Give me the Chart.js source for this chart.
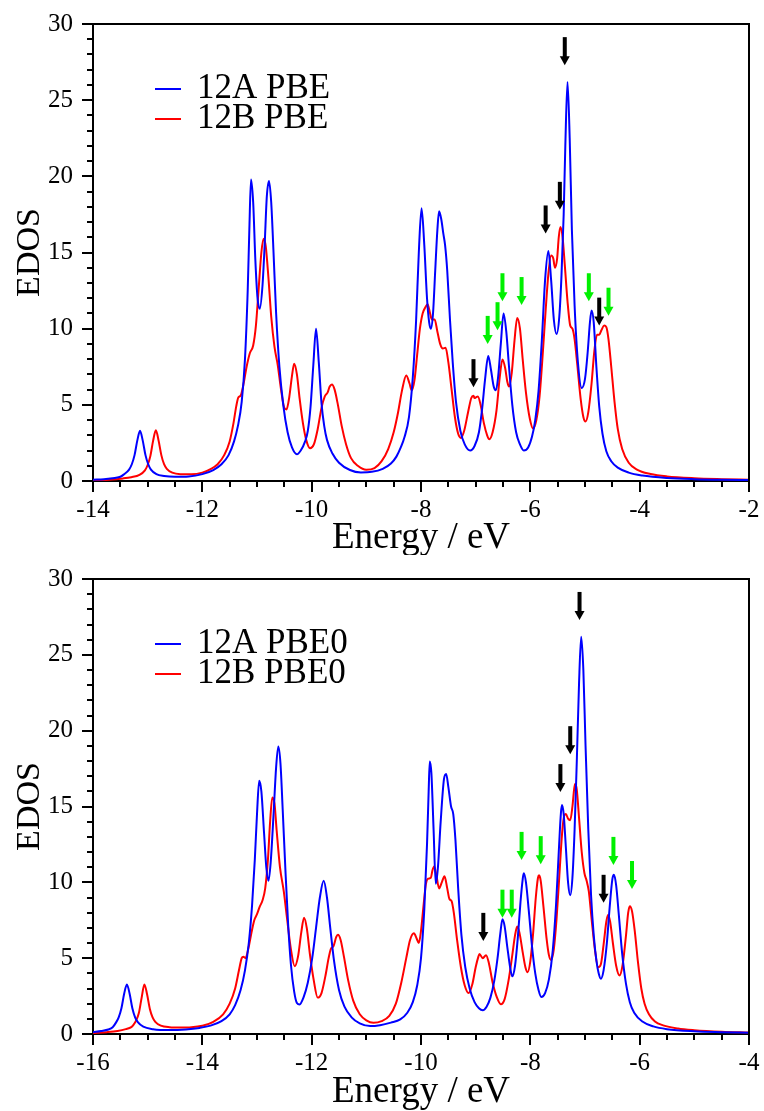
<!DOCTYPE html>
<html>
<head>
<meta charset="utf-8">
<script src="https://cdn.jsdelivr.net/npm/chart.js@4.4.1/dist/chart.umd.min.js"></script>
<style>
  body { margin: 0; background: #fff; }
  canvas { display: block; }
</style>
</head>
<body>
<canvas id="pbeChart" width="764" height="555"></canvas>
<canvas id="pbe0Chart" width="764" height="556"></canvas>
<script>
// EDOS curves: [energy (eV), EDOS]
const pbe12A = [
  [-14, 0.08], [-13.8, 0.12], [-13.6, 0.2], [-13.5, 0.28], [-13.44, 0.42], [-13.34, 0.75], [-13.29, 1.1],
  [-13.24, 1.7], [-13.19, 2.65], [-13.14, 3.3], [-13.09, 2.65], [-13.04, 1.7], [-12.99, 1.1], [-12.94, 0.75],
  [-12.84, 0.45], [-12.7, 0.33], [-12.5, 0.28], [-12.25, 0.3], [-12.0, 0.45], [-11.8, 0.72], [-11.65, 1.1],
  [-11.52, 1.7], [-11.42, 2.6], [-11.35, 3.6], [-11.28, 5.2], [-11.22, 8.0], [-11.17, 12.5], [-11.14, 16.5],
  [-11.11, 19.8], [-11.07, 18.3], [-11.03, 14.5], [-10.99, 12.0], [-10.95, 11.3], [-10.9, 12.8],
  [-10.86, 15.5], [-10.82, 18.7], [-10.78, 19.7], [-10.74, 18.3], [-10.7, 15.2], [-10.65, 11], [-10.59, 7.5],
  [-10.52, 5.0], [-10.44, 3.2], [-10.36, 2.2], [-10.27, 1.75], [-10.2, 2.0], [-10.12, 2.6], [-10.07, 3.3],
  [-10.02, 4.9], [-9.97, 7.6], [-9.92, 10.0], [-9.87, 7.8], [-9.82, 5.1], [-9.77, 3.6], [-9.72, 2.7],
  [-9.62, 1.8], [-9.5, 1.2], [-9.3, 0.72], [-9.1, 0.56], [-8.9, 0.6], [-8.7, 0.8], [-8.55, 1.15],
  [-8.45, 1.6], [-8.37, 2.2], [-8.3, 2.9], [-8.22, 4.2], [-8.15, 6.8], [-8.09, 10.5], [-8.04, 15],
  [-7.99, 17.9], [-7.94, 15.5], [-7.89, 12], [-7.85, 10.4], [-7.82, 10.0], [-7.78, 11.0], [-7.74, 13.8],
  [-7.7, 16.5], [-7.67, 17.7], [-7.63, 17.2], [-7.59, 16.2], [-7.56, 15.5], [-7.52, 13.8], [-7.47, 10.6],
  [-7.42, 7.8], [-7.36, 5.2], [-7.28, 3.3], [-7.2, 2.4], [-7.1, 2.0], [-7.02, 2.3], [-6.94, 3.2],
  [-6.88, 4.8], [-6.83, 6.6], [-6.77, 8.2], [-6.72, 7.3], [-6.67, 6.2], [-6.63, 5.95], [-6.59, 6.8],
  [-6.54, 9.0], [-6.49, 11.0], [-6.44, 9.8], [-6.39, 7.5], [-6.33, 5.0], [-6.26, 3.2], [-6.19, 2.4],
  [-6.12, 2.0], [-6.04, 2.2], [-5.97, 2.9], [-5.91, 4.0], [-5.85, 5.9], [-5.79, 9.2], [-5.73, 13.2],
  [-5.67, 15.1], [-5.62, 13.2], [-5.57, 10.6], [-5.52, 9.65], [-5.47, 10.8], [-5.43, 13.5], [-5.39, 17.5],
  [-5.36, 22], [-5.32, 26.2], [-5.28, 22.5], [-5.24, 16.5], [-5.19, 11.5], [-5.13, 7.8], [-5.06, 6.1],
  [-5.0, 6.7], [-4.95, 8.5], [-4.91, 10.4], [-4.88, 11.2], [-4.84, 10.4], [-4.79, 7.4], [-4.74, 4.9],
  [-4.68, 3.1], [-4.61, 1.95], [-4.52, 1.3], [-4.4, 0.88], [-4.2, 0.55], [-3.95, 0.36], [-3.5, 0.2],
  [-3.0, 0.12], [-2.5, 0.08], [-2.0, 0.06]
];
const pbe12B = [
  [-14, 0.05], [-13.7, 0.09], [-13.45, 0.17], [-13.3, 0.25], [-13.15, 0.4], [-13.05, 0.7], [-13.0, 1.05],
  [-12.95, 1.65], [-12.9, 2.65], [-12.85, 3.33], [-12.8, 2.65], [-12.75, 1.7], [-12.7, 1.1], [-12.65, 0.8],
  [-12.55, 0.55], [-12.4, 0.45], [-12.2, 0.44], [-12.0, 0.55], [-11.85, 0.78], [-11.72, 1.1], [-11.6, 1.7],
  [-11.5, 2.6], [-11.43, 3.8], [-11.38, 4.9], [-11.34, 5.5], [-11.3, 5.6], [-11.25, 6.3], [-11.19, 7.5],
  [-11.13, 8.4], [-11.07, 8.9], [-11.02, 10.2], [-10.97, 12.6], [-10.92, 15.0], [-10.88, 15.9],
  [-10.84, 15.4], [-10.79, 13.3], [-10.74, 10.8], [-10.68, 8.8], [-10.62, 7.6], [-10.56, 6.0], [-10.5, 4.8],
  [-10.46, 4.7], [-10.41, 5.5], [-10.36, 6.9], [-10.32, 7.7], [-10.27, 7.0], [-10.22, 5.4], [-10.16, 3.8],
  [-10.1, 2.7], [-10.03, 2.15], [-9.96, 2.4], [-9.89, 3.4], [-9.82, 4.8], [-9.76, 5.55], [-9.71, 5.8],
  [-9.67, 6.2], [-9.63, 6.34], [-9.58, 6.0], [-9.52, 5.0], [-9.45, 3.6], [-9.37, 2.4], [-9.28, 1.5],
  [-9.15, 0.98], [-9.0, 0.74], [-8.85, 0.85], [-8.72, 1.3], [-8.6, 2.1], [-8.5, 3.2], [-8.42, 4.5],
  [-8.35, 5.9], [-8.27, 6.93], [-8.21, 6.4], [-8.17, 5.95], [-8.12, 6.6], [-8.07, 8.3], [-8.02, 10.0],
  [-7.97, 11.0], [-7.92, 11.4], [-7.88, 11.6], [-7.84, 11.1], [-7.8, 10.6], [-7.75, 10.6], [-7.7, 9.8],
  [-7.65, 9.0], [-7.6, 8.7], [-7.55, 8.75], [-7.5, 7.8], [-7.44, 6.0], [-7.38, 4.2], [-7.32, 3.1],
  [-7.27, 2.83], [-7.21, 3.3], [-7.14, 4.5], [-7.08, 5.45], [-7.04, 5.6], [-7.02, 5.45], [-6.99, 5.5],
  [-6.96, 5.55], [-6.91, 5.0], [-6.85, 3.8], [-6.79, 3.0], [-6.75, 2.74], [-6.69, 3.2], [-6.62, 4.6],
  [-6.56, 6.8], [-6.51, 7.97], [-6.46, 7.4], [-6.42, 6.5], [-6.39, 6.2], [-6.34, 7.1], [-6.29, 9.2],
  [-6.24, 10.7], [-6.19, 10.0], [-6.14, 8.0], [-6.08, 5.8], [-6.01, 4.1], [-5.95, 3.44], [-5.89, 4.0],
  [-5.83, 5.6], [-5.77, 8.5], [-5.72, 11.2], [-5.67, 13.6], [-5.62, 14.8], [-5.58, 14.6], [-5.55, 14.0],
  [-5.51, 14.6], [-5.48, 16.0], [-5.45, 16.67], [-5.41, 16.0], [-5.37, 14.2], [-5.32, 11.8], [-5.27, 10.2],
  [-5.23, 10.0], [-5.19, 9.3], [-5.14, 7.6], [-5.08, 5.4], [-5.03, 4.2], [-4.99, 3.9], [-4.94, 4.5],
  [-4.88, 6.4], [-4.83, 8.5], [-4.78, 9.6], [-4.74, 9.6], [-4.7, 9.9], [-4.65, 10.2], [-4.61, 10.1],
  [-4.57, 9.3], [-4.52, 7.5], [-4.46, 5.2], [-4.4, 3.4], [-4.32, 2.1], [-4.2, 1.2], [-4.05, 0.75],
  [-3.8, 0.46], [-3.5, 0.3], [-3.0, 0.18], [-2.5, 0.12], [-2.0, 0.08]
];
const pbe0_12A = [
  [-16, 0.12], [-15.85, 0.2], [-15.72, 0.3], [-15.64, 0.45], [-15.58, 0.75], [-15.53, 1.1], [-15.48, 1.7],
  [-15.43, 2.65], [-15.38, 3.27], [-15.33, 2.65], [-15.28, 1.7], [-15.23, 1.1], [-15.18, 0.78],
  [-15.08, 0.48], [-14.9, 0.32], [-14.6, 0.26], [-14.3, 0.3], [-14.05, 0.4], [-13.85, 0.55], [-13.65, 0.85],
  [-13.5, 1.3], [-13.4, 1.9], [-13.3, 2.9], [-13.22, 4.2], [-13.15, 6.0], [-13.09, 8.5], [-13.04, 11.5],
  [-13.0, 14.5], [-12.96, 16.7], [-12.92, 16.0], [-12.87, 13.2], [-12.83, 11.0], [-12.79, 10.1],
  [-12.75, 11.3], [-12.7, 14.3], [-12.65, 17.6], [-12.61, 18.95], [-12.57, 17.8], [-12.53, 14.8],
  [-12.48, 10.8], [-12.43, 7.2], [-12.38, 4.6], [-12.32, 2.8], [-12.27, 2.05], [-12.22, 1.95],
  [-12.15, 2.4], [-12.07, 3.4], [-11.99, 5.0], [-11.92, 7.0], [-11.85, 9.0], [-11.78, 10.1], [-11.72, 9.0],
  [-11.66, 7.0], [-11.59, 4.8], [-11.5, 2.9], [-11.4, 1.8], [-11.27, 1.1], [-11.12, 0.7], [-10.93, 0.52],
  [-10.75, 0.58], [-10.55, 0.75], [-10.38, 0.96], [-10.25, 1.4], [-10.15, 2.1], [-10.07, 3.2], [-10.0, 5.0],
  [-9.94, 8.2], [-9.89, 12.5], [-9.86, 16], [-9.84, 17.97], [-9.81, 17.2], [-9.77, 13.5], [-9.73, 9.9],
  [-9.69, 11], [-9.64, 14], [-9.58, 16.8], [-9.54, 17.15], [-9.5, 16.3], [-9.45, 15.0], [-9.41, 14.5],
  [-9.37, 12.8], [-9.32, 9.6], [-9.26, 6.5], [-9.19, 4.4], [-9.11, 3.0], [-9.02, 2.1], [-8.94, 1.7],
  [-8.87, 1.57], [-8.8, 1.8], [-8.73, 2.4], [-8.66, 3.5], [-8.6, 5.0], [-8.55, 6.6], [-8.51, 7.56],
  [-8.47, 7.1], [-8.42, 5.7], [-8.37, 4.4], [-8.33, 3.8], [-8.28, 4.5], [-8.23, 6.3], [-8.18, 8.7],
  [-8.14, 10.2], [-8.12, 10.6], [-8.08, 10.0], [-8.03, 8.2], [-7.97, 5.8], [-7.91, 4.0], [-7.85, 2.9],
  [-7.8, 2.44], [-7.73, 2.7], [-7.66, 3.6], [-7.59, 5.5], [-7.53, 8.5], [-7.48, 12], [-7.44, 14.6],
  [-7.42, 15.1], [-7.39, 14.5], [-7.35, 12.3], [-7.31, 10.0], [-7.27, 9.15], [-7.23, 10.3], [-7.19, 13.5],
  [-7.15, 18], [-7.11, 23], [-7.07, 26.2], [-7.03, 24], [-6.99, 19], [-6.94, 13.5], [-6.89, 9.2],
  [-6.84, 6.5], [-6.79, 4.8], [-6.75, 4.0], [-6.71, 3.64], [-6.66, 4.2], [-6.6, 6.0], [-6.55, 8.3],
  [-6.5, 10.2], [-6.47, 10.5], [-6.43, 9.8], [-6.38, 7.8], [-6.32, 5.3], [-6.25, 3.3], [-6.18, 2.1],
  [-6.1, 1.4], [-5.95, 0.82], [-5.75, 0.5], [-5.5, 0.32], [-5.0, 0.18], [-4.5, 0.12], [-4.0, 0.08]
];
const pbe0_12B = [
  [-16, 0.06], [-15.75, 0.12], [-15.55, 0.2], [-15.4, 0.32], [-15.3, 0.45], [-15.26, 0.6], [-15.21, 0.9],
  [-15.16, 1.4], [-15.11, 2.4], [-15.06, 3.27], [-15.01, 2.6], [-14.96, 1.65], [-14.91, 1.1], [-14.86, 0.8],
  [-14.76, 0.55], [-14.6, 0.45], [-14.4, 0.43], [-14.2, 0.45], [-14.0, 0.55], [-13.8, 0.8], [-13.62, 1.3],
  [-13.5, 2.0], [-13.4, 3.0], [-13.33, 4.2], [-13.28, 5.0], [-13.25, 5.1], [-13.21, 5.0], [-13.16, 5.6],
  [-13.1, 6.7], [-13.05, 7.5], [-13.0, 7.9], [-12.95, 8.4], [-12.9, 8.8], [-12.85, 9.6], [-12.8, 11.5],
  [-12.76, 14.0], [-12.72, 15.6], [-12.68, 15.2], [-12.64, 13.4], [-12.58, 11.0], [-12.51, 9.4],
  [-12.45, 7.6], [-12.38, 5.6], [-12.31, 4.47], [-12.25, 5.1], [-12.19, 6.7], [-12.14, 7.67], [-12.09, 7.0],
  [-12.03, 5.2], [-11.96, 3.5], [-11.89, 2.4], [-11.82, 2.7], [-11.75, 3.8], [-11.69, 5.0], [-11.65, 5.6],
  [-11.6, 5.8], [-11.55, 6.4], [-11.52, 6.54], [-11.47, 6.2], [-11.41, 5.1], [-11.33, 3.5], [-11.24, 2.2],
  [-11.12, 1.3], [-11.0, 0.9], [-10.87, 0.74], [-10.72, 0.85], [-10.58, 1.2], [-10.46, 2.0], [-10.36, 3.4],
  [-10.27, 5.0], [-10.2, 6.2], [-10.13, 6.64], [-10.08, 6.3], [-10.04, 6.0], [-10.0, 6.8], [-9.95, 8.6],
  [-9.91, 9.9], [-9.87, 10.24], [-9.82, 10.3], [-9.79, 10.8], [-9.76, 11.05], [-9.72, 10.5], [-9.67, 9.6],
  [-9.62, 10.0], [-9.57, 10.4], [-9.52, 9.6], [-9.48, 8.9], [-9.44, 8.76], [-9.4, 8.0], [-9.34, 6.2],
  [-9.27, 4.4], [-9.2, 3.2], [-9.13, 2.7], [-9.06, 3.3], [-9.0, 4.4], [-8.95, 5.1], [-8.93, 5.27],
  [-8.87, 5.0], [-8.81, 5.2], [-8.76, 4.7], [-8.69, 3.4], [-8.61, 2.4], [-8.54, 1.96], [-8.47, 2.3],
  [-8.4, 3.5], [-8.33, 5.2], [-8.28, 6.5], [-8.24, 7.08], [-8.2, 6.7], [-8.14, 5.4], [-8.09, 4.4],
  [-8.05, 4.07], [-8.0, 4.8], [-7.95, 6.6], [-7.9, 9.0], [-7.86, 10.3], [-7.84, 10.46], [-7.81, 10.1],
  [-7.76, 8.4], [-7.7, 6.2], [-7.66, 5.2], [-7.62, 4.88], [-7.57, 5.6], [-7.52, 7.6], [-7.47, 10.4],
  [-7.42, 13.2], [-7.38, 14.4], [-7.35, 14.5], [-7.31, 14.2], [-7.27, 14.1], [-7.23, 15.0], [-7.2, 16.1],
  [-7.18, 16.5], [-7.15, 16.1], [-7.11, 14.3], [-7.06, 12.0], [-7.01, 10.6], [-6.97, 10.1], [-6.93, 9.4],
  [-6.88, 7.6], [-6.82, 5.6], [-6.76, 4.4], [-6.71, 4.6], [-6.66, 5.9], [-6.61, 7.4], [-6.58, 7.84],
  [-6.54, 7.4], [-6.49, 6.0], [-6.43, 4.5], [-6.37, 3.86], [-6.31, 4.6], [-6.25, 6.5], [-6.21, 8.0],
  [-6.18, 8.43], [-6.14, 8.1], [-6.09, 6.8], [-6.03, 4.7], [-5.97, 3.0], [-5.91, 2.0], [-5.83, 1.3],
  [-5.72, 0.82], [-5.57, 0.57], [-5.3, 0.36], [-5.0, 0.25], [-4.5, 0.15], [-4.0, 0.1]
];

// arrow annotations: energy, EDOS at the arrow tip, colour
const pbeArrowE = [-5.37, -5.46, -5.72, -7.04, -4.74, -6.78, -6.60, -6.51, -6.16, -4.93, -4.57];
const pbeArrowTip = [27.3, 17.8, 16.25, 6.16, 10.2, 9.0, 9.9, 11.8, 11.55, 11.8, 10.85];
const pbeArrowColor = ['k', 'k', 'k', 'k', 'k', 'g', 'g', 'g', 'g', 'g', 'g'];

const pbe0ArrowE = [-7.10, -7.27, -7.45, -8.86, -6.66, -8.51, -8.34, -8.16, -7.81, -6.48, -6.14];
const pbe0ArrowTip = [27.3, 18.45, 15.95, 6.14, 8.65, 7.67, 7.67, 11.48, 11.2, 11.15, 9.56];
const pbe0ArrowColor = ['k', 'k', 'k', 'k', 'k', 'g', 'g', 'g', 'g', 'g', 'g'];

const pbeLabels = ['12A PBE', '12B PBE'];
const pbe0Labels = ['12A PBE0', '12B PBE0'];

const FONT = 'Liberation Serif';

// frame on top/right plus minor ticks
const framePlugin = {
    id: 'frame',
    afterDraw(chart) {
        const { ctx, chartArea: a, scales: { x, y } } = chart;
        ctx.save();
        ctx.strokeStyle = '#000';
        ctx.lineWidth = 2;
        ctx.beginPath();
        ctx.moveTo(a.left, a.top);
        ctx.lineTo(a.right, a.top);
        ctx.lineTo(a.right, a.bottom);
        ctx.stroke();
        ctx.beginPath();
        for (let v = y.min; v <= y.max; v += 1) {
            if (v % 5 === 0) continue;
            const py = Math.round(y.getPixelForValue(v));
            ctx.moveTo(a.left, py);
            ctx.lineTo(a.left - 6, py);
        }
        for (let k = Math.round(x.min * 2); k <= Math.round(x.max * 2); k++) {
            if (k % 4 === 0) continue;
            const px = Math.round(x.getPixelForValue(k / 2));
            ctx.moveTo(px, a.bottom);
            ctx.lineTo(px, a.bottom + 6);
        }
        ctx.stroke();
        ctx.restore();
    }
};

// legend drawn inside the plot, top left
const insideLegend = {
    id: 'insideLegend',
    afterDraw(chart) {
        const { ctx, chartArea: a } = chart;
        ctx.save();
        ctx.font = '35px "' + FONT + '"';
        ctx.textBaseline = 'middle';
        ctx.fillStyle = '#000';
        chart.data.datasets.forEach((ds, i) => {
            const yy = a.top + 65 + i * 30;
            ctx.strokeStyle = ds.borderColor;
            ctx.lineWidth = 2;
            ctx.beginPath();
            ctx.moveTo(a.left + 62, yy);
            ctx.lineTo(a.left + 88, yy);
            ctx.stroke();
            ctx.fillText(ds.label, a.left + 104, yy);
        });
        ctx.restore();
    }
};

const arrowPlugin = {
    id: 'arrows',
    afterDatasetsDraw(chart, args, opts) {
        const { ctx, scales: { x, y } } = chart;
        ctx.save();
        opts.e.forEach((e, i) => {
            const px = x.getPixelForValue(e);
            const tip = y.getPixelForValue(opts.tip[i]);
            ctx.fillStyle = opts.color[i] === 'g' ? '#00f000' : '#000';
            ctx.fillRect(px - 2, tip - 28, 4, 20);
            ctx.beginPath();
            ctx.moveTo(px - 5, tip - 9);
            ctx.lineTo(px + 5, tip - 9);
            ctx.lineTo(px, tip);
            ctx.closePath();
            ctx.fill();
        });
        ctx.restore();
    }
};

function toPoints(arr) {
    return arr.map(p => ({ x: p[0], y: p[1] }));
}

function makeChart(id, xMin, xMax, seriesA, seriesB, labels, arrows, topPad, axisHeight, titleBottom) {
    const ctx = document.getElementById(id).getContext('2d');
    return new Chart(ctx, {
        type: 'line',
        data: {
            datasets: [
                {
                    label: labels[0],
                    data: toPoints(seriesA),
                    borderColor: '#0000ff',
                    borderWidth: 2,
                    pointRadius: 0,
                    fill: false,
                    cubicInterpolationMode: 'monotone'
                },
                {
                    label: labels[1],
                    data: toPoints(seriesB),
                    borderColor: '#ff0000',
                    borderWidth: 2,
                    pointRadius: 0,
                    fill: false,
                    cubicInterpolationMode: 'monotone'
                }
            ]
        },
        options: {
            responsive: false,
            animation: false,
            layout: { padding: { top: topPad, right: 15, left: 0, bottom: 0 } },
            scales: {
                x: {
                    type: 'linear',
                    min: xMin,
                    max: xMax,
                    afterFit: s => { s.height = axisHeight; },
                    ticks: {
                        stepSize: 2,
                        maxRotation: 0,
                        autoSkip: false,
                        padding: 3,
                        color: '#000',
                        font: { family: FONT, size: 25 }
                    },
                    grid: { drawOnChartArea: false, drawTicks: true, tickLength: 11, color: '#000', lineWidth: 2 },
                    border: { display: true, color: '#000', width: 2 },
                    title: {
                        display: true,
                        text: 'Energy / eV',
                        color: '#000',
                        font: { family: FONT, size: 37, lineHeight: 1 },
                        padding: { top: 0, bottom: titleBottom }
                    }
                },
                y: {
                    min: 0,
                    max: 30,
                    afterFit: s => { s.width = 93; },
                    ticks: {
                        stepSize: 5,
                        padding: 9,
                        color: '#000',
                        font: { family: FONT, size: 25 }
                    },
                    grid: { drawOnChartArea: false, drawTicks: true, tickLength: 11, color: '#000', lineWidth: 2 },
                    border: { display: true, color: '#000', width: 2 },
                    title: {
                        display: true,
                        text: 'EDOS',
                        color: '#000',
                        font: { family: FONT, size: 34, lineHeight: 1 },
                        padding: { top: 13, bottom: 0 }
                    }
                }
            },
            plugins: {
                legend: { display: false },
                tooltip: { enabled: false },
                arrows: arrows
            }
        },
        plugins: [framePlugin, insideLegend, arrowPlugin]
    });
}

makeChart('pbeChart', -14, -2, pbe12A, pbe12B, pbeLabels,
    { e: pbeArrowE, tip: pbeArrowTip, color: pbeArrowColor }, 22, 74, -2);
makeChart('pbe0Chart', -16, -4, pbe0_12A, pbe0_12B, pbe0Labels,
    { e: pbe0ArrowE, tip: pbe0ArrowTip, color: pbe0ArrowColor }, 20, 77, 0);
</script>
</body>
</html>
